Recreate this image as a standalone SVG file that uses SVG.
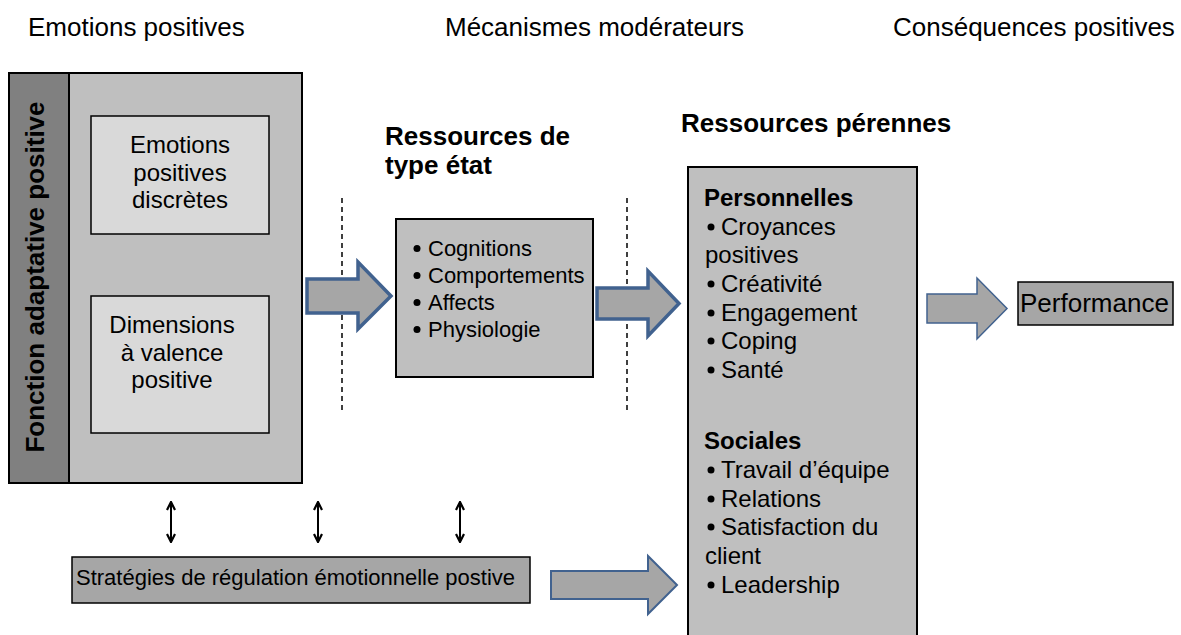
<svg xmlns="http://www.w3.org/2000/svg" width="1181" height="635" viewBox="0 0 1181 635">
<style>
text{font-family:"Liberation Sans",Arial,sans-serif;fill:#000}
.h{font-size:26px}
.hb{font-size:26px;font-weight:bold}
.t24{font-size:24px}
.t22{font-size:22px}
.box{stroke:#000;stroke-width:2}
.arr{fill:#a6a6a6;stroke:#41628f;stroke-linejoin:miter}
.dash{stroke:#000;stroke-width:1.5;stroke-dasharray:5 4;fill:none}
.dbl{stroke:#000;stroke-width:2;fill:none}
</style>
<defs>
<marker id="ah" viewBox="0 0 10 10" refX="9" refY="5" markerWidth="5" markerHeight="5" orient="auto-start-reverse" markerUnits="strokeWidth">
<path d="M1,1 L9,5 L1,9" fill="none" stroke="#000" stroke-width="2.2"/>
</marker>
</defs>
<rect width="1181" height="635" fill="#fff"/>

<g id="headings">
<text class="h" x="28" y="36">Emotions positives</text>
<text class="h" x="445" y="36">Mécanismes modérateurs</text>
<text class="h" x="893" y="36">Conséquences positives</text>
<text class="hb" x="385" y="145">Ressources de</text>
<text class="hb" x="385" y="174">type état</text>
<text class="hb" x="681" y="132">Ressources pérennes</text>
</g>

<g id="emotions">
<rect class="box" x="9" y="73" width="293" height="410" fill="#bfbfbf"/>
<rect x="10" y="74" width="59" height="408" fill="#808080"/>
<line x1="69" y1="73" x2="69" y2="483" stroke="#000" stroke-width="2"/>
<text class="hb" transform="translate(44,277) rotate(-90)" text-anchor="middle">Fonction adaptative positive</text>
</g>

<g id="discretes">
<rect x="91" y="116" width="178" height="118" fill="#d9d9d9" stroke="#000" stroke-width="1.5"/>
<text class="t24" text-anchor="middle"><tspan x="180" y="153">Emotions</tspan><tspan x="180" y="181">positives</tspan><tspan x="180" y="208">discrètes</tspan></text>
</g>

<g id="dimensions">
<rect x="91" y="296" width="178" height="137" fill="#d9d9d9" stroke="#000" stroke-width="1.5"/>
<text class="t24" text-anchor="middle"><tspan x="172" y="333">Dimensions</tspan><tspan x="172" y="361">à valence</tspan><tspan x="172" y="388">positive</tspan></text>
</g>

<g id="etat">
<rect class="box" x="396" y="219" width="197" height="158" fill="#bfbfbf"/>
<g fill="#000"><circle cx="417" cy="248.5" r="3.5"/><circle cx="417" cy="275.5" r="3.5"/><circle cx="417" cy="302.5" r="3.5"/><circle cx="417" cy="329.5" r="3.5"/></g>
<text class="t22"><tspan x="428" y="256">Cognitions</tspan><tspan x="428" y="283">Comportements</tspan><tspan x="428" y="310">Affects</tspan><tspan x="428" y="337">Physiologie</tspan></text>
</g>

<g id="perennes">
<rect class="box" x="688" y="167" width="229" height="480" fill="#bfbfbf"/>
<text x="704" y="206" style="font-size:24px;font-weight:bold">Personnelles</text>
<g fill="#000">
<circle cx="711" cy="227" r="3.5"/><circle cx="711" cy="284" r="3.5"/><circle cx="711" cy="313" r="3.5"/><circle cx="711" cy="341" r="3.5"/><circle cx="711" cy="370" r="3.5"/>
<circle cx="711" cy="470" r="3.5"/><circle cx="711" cy="499" r="3.5"/><circle cx="711" cy="527" r="3.5"/><circle cx="711" cy="585" r="3.5"/>
</g>
<text class="t24"><tspan x="721" y="235">Croyances</tspan><tspan x="705" y="263">positives</tspan><tspan x="721" y="292">Créativité</tspan><tspan x="721" y="321">Engagement</tspan><tspan x="721" y="349">Coping</tspan><tspan x="721" y="378">Santé</tspan></text>
<text x="704" y="449" style="font-size:24px;font-weight:bold">Sociales</text>
<text class="t24"><tspan x="721" y="478">Travail d’équipe</tspan><tspan x="721" y="507">Relations</tspan><tspan x="721" y="535">Satisfaction du</tspan><tspan x="705" y="564">client</tspan><tspan x="721" y="593">Leadership</tspan></text>
</g>

<g id="performance">
<rect x="1018" y="282" width="155" height="43" fill="#a6a6a6" stroke="#000" stroke-width="1.5"/>
<text class="h" x="1020" y="312">Performance</text>
</g>

<g id="strategies">
<rect x="72" y="557" width="458" height="46" fill="#a6a6a6" stroke="#000" stroke-width="1.5"/>
<text class="t22" x="76" y="585">Stratégies de régulation émotionnelle postive</text>
</g>

<g id="connectors">
<line class="dash" x1="342" y1="198" x2="342" y2="410"/>
<line class="dash" x1="627" y1="198" x2="627" y2="410"/>
<polygon class="arr" stroke-width="3.5" points="307,279 358,279 358,262 391,296 358,329 358,313 307,313"/>
<polygon class="arr" stroke-width="3.5" points="597,288 648,288 648,271 679,303.5 648,336 648,319 597,319"/>
<polygon class="arr" stroke-width="1.5" points="927,294 977,294 977,278 1007,308.5 977,339 977,323 927,323"/>
<polygon class="arr" stroke-width="2" points="551,571 648,571 648,556 677,585 648,614 648,599 551,599"/>
<line class="dbl" x1="171" y1="502" x2="171" y2="542" marker-start="url(#ah)" marker-end="url(#ah)"/>
<line class="dbl" x1="318" y1="502" x2="318" y2="542" marker-start="url(#ah)" marker-end="url(#ah)"/>
<line class="dbl" x1="460" y1="502" x2="460" y2="542" marker-start="url(#ah)" marker-end="url(#ah)"/>
</g>
</svg>
